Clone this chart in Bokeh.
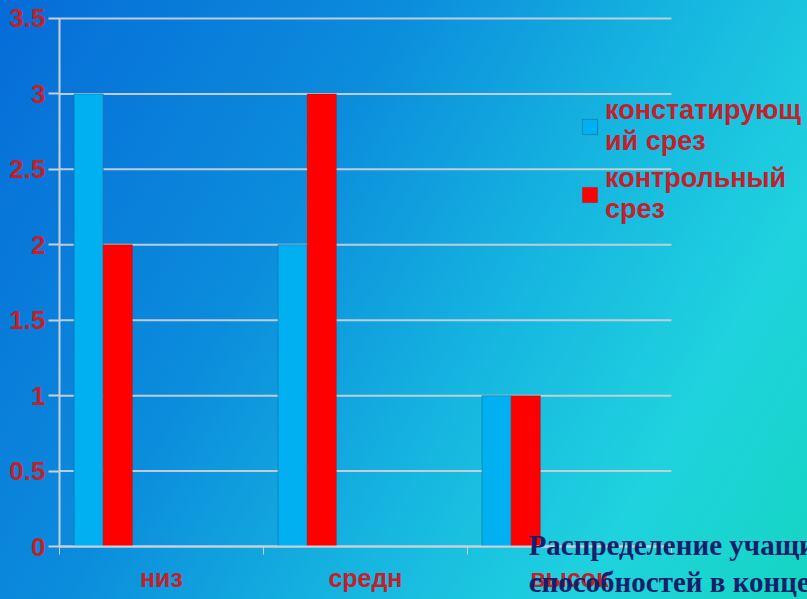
from bokeh.plotting import figure
from bokeh.models import (ColumnDataSource, Range1d, FixedTicker, Legend, LegendItem,
                          Label, LinearAxis)
from bokeh.transform import dodge
from bokeh.embed import file_html
from bokeh.resources import INLINE

# ---- data ----
categories = ["низ", "средн", "высок"]
series_names = ["констатирующ\nий срез", "контрольный\nсрез"]
konstat = [3, 2, 1]
kontrol = [2, 3, 1]
y_ticks = [0, 0.5, 1, 1.5, 2, 2.5, 3, 3.5]
y_tick_labels = ["0", "0.5", "1", "1.5", "2", "2.5", "3", "3.5"]
title_text = "Распределение учащихся по уровню развития творческих\nспособностей в конце эксперимента"

RED_TXT = "#c3202b"
FONT = "Liberation Sans"
GRID = "#c8d0d8"

n = len(categories)
centers = [i + 0.5 for i in range(n)]
src = ColumnDataSource(dict(x=centers, konstat=konstat, kontrol=kontrol))
grid_src = ColumnDataSource(dict(y=y_ticks, x0=[0] * len(y_ticks), x1=[n] * len(y_ticks)))

p = figure(width=807, height=599, output_backend="svg", toolbar_location=None,
           x_range=Range1d(-0.289, 3.667), y_range=Range1d(-0.351, 3.619),
           x_axis_location=None, y_axis_location=None,
           min_border=0)
p.background_fill_color = None
p.border_fill_color = None
p.outline_line_color = None
p.xgrid.visible = False
p.ygrid.visible = False

# grid lines limited to the plot area
p.segment(x0="x0", x1="x1", y0="y", y1="y", source=grid_src,
          line_color=GRID, line_width=2, line_alpha=0.95)

r1 = p.vbar(x=dodge("x", -0.357, range=p.x_range), top="konstat", width=0.143, source=src,
            fill_color="#00b0f0", line_color="#1a5f8f", line_alpha=0.5)
r2 = p.vbar(x=dodge("x", -0.214, range=p.x_range), top="kontrol", width=0.143, source=src,
            fill_color="#ff0000", line_color="#a01010", line_alpha=0.3)

# axes, fixed at the data origin
xa = LinearAxis(fixed_location=0, bounds=(0, n))
xa.ticker = FixedTicker(ticks=centers, minor_ticks=list(range(n + 1)))
xa.major_label_overrides = {c: lab for c, lab in zip(centers, categories)}
xa.major_tick_out = 0
xa.major_tick_in = 0
xa.minor_tick_out = 8
xa.minor_tick_in = 0
xa.minor_tick_line_color = GRID
xa.minor_tick_line_width = 1
xa.axis_line_color = GRID
xa.axis_line_width = 2
xa.major_label_standoff = 9
xa.major_label_text_font = FONT
xa.major_label_text_font_style = "bold"
xa.major_label_text_font_size = "25px"
xa.major_label_text_color = RED_TXT
p.add_layout(xa, "below")

ya = LinearAxis(fixed_location=0, bounds=(0, 3.5))
ya.ticker = FixedTicker(ticks=y_ticks, minor_ticks=[])
ya.major_label_overrides = {t: lab for t, lab in zip(y_ticks, y_tick_labels)}
ya.major_tick_out = 11
ya.major_tick_in = 0
ya.major_tick_line_color = GRID
ya.major_tick_line_width = 2
ya.axis_line_color = GRID
ya.axis_line_width = 2
ya.major_label_standoff = 3
ya.major_label_text_font = FONT
ya.major_label_text_font_style = "bold"
ya.major_label_text_font_size = "26px"
ya.major_label_text_color = RED_TXT
p.add_layout(ya, "left")

legend = Legend(items=[LegendItem(label=series_names[0], renderers=[r1]),
                       LegendItem(label=series_names[1], renderers=[r2])],
                location=(580, 374), padding=0, margin=0, spacing=6,
                glyph_width=19, glyph_height=19, label_standoff=6,
                label_text_font=FONT, label_text_font_style="bold",
                label_text_font_size="27px", label_text_color=RED_TXT,
                label_text_line_height=1.05,
                background_fill_alpha=0, border_line_color=None)
p.add_layout(legend, "center")

title = Label(x=2.30, y=0.115, text=title_text, text_baseline="top",
              text_font="Liberation Serif", text_font_style="bold",
              text_font_size="29px", text_color="#14206a", text_line_height=1.15)
p.add_layout(title)

html = file_html(p, INLINE)
css = ("<style>html{min-height:100%;overflow:hidden;background:linear-gradient(120deg,#066cd8 0%,"
       "#0b8cdc 35%,#16b6e0 60%,#1fd2de 80%,#14d6c2 100%);}"
       "body{margin:0;background:transparent;overflow:hidden;}</style>")
html = html.replace("</head>", css + "</head>", 1)
open("out.html", "w").write(html)
